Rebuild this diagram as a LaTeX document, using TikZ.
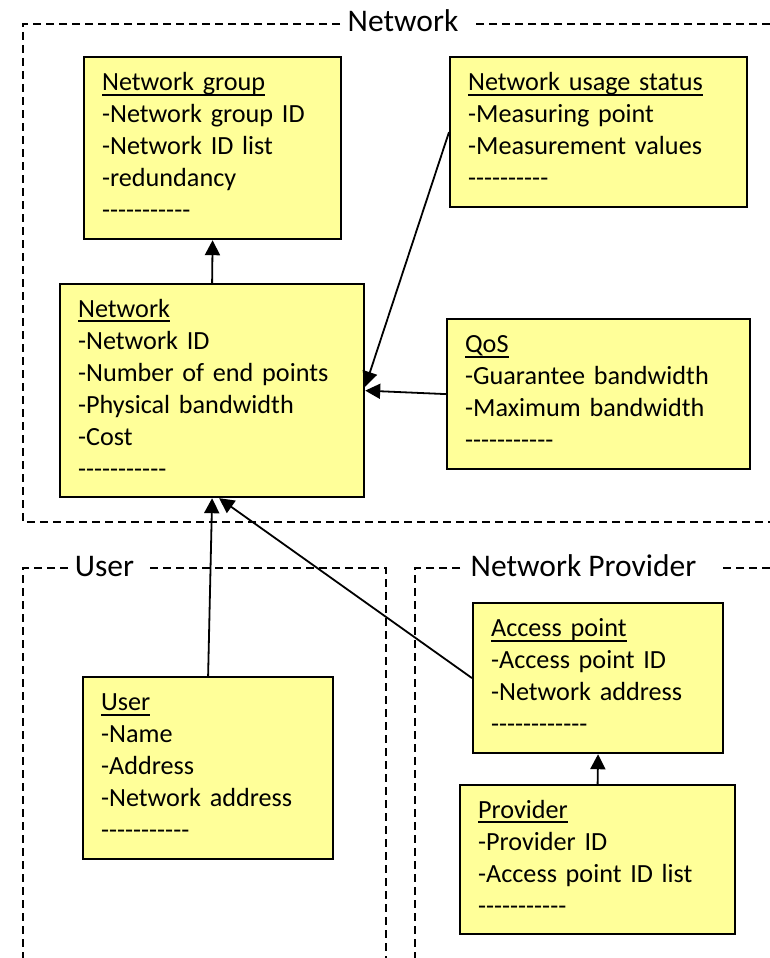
\documentclass[tikz,border=0pt]{standalone}
\usepackage{fontspec}
\setmainfont{Carlito}
\usetikzlibrary{arrows.meta}
\definecolor{boxfill}{RGB}{255,255,153}
\newcommand\dashrow[1]{\foreach \i in {1,...,#1}{-\kern0pt}}
\newcommand\ulc[1]{\leavevmode\setbox0\hbox{#1}\rlap{\rule[-5pt]{\wd0}{1.8pt}}\box0}
\tikzset{
  box/.style={draw, line width=2.2pt, fill=boxfill, anchor=north west, align=left,
    inner xsep=18pt, inner ysep=0pt, font=\fontsize{26.2}{32}\selectfont},
  region/.style={line width=1.5pt, dash pattern=on 8pt off 5pt},
  regionlabel/.style={anchor=base, inner sep=0pt, font=\fontsize{31.5}{36}\selectfont},
  arr/.style={line width=1.8pt, -{Triangle[length=15pt,width=15pt]}}
}
\begin{document}
\begin{tikzpicture}[x=1pt,y=-1pt]
\useasboundingbox (0,0) rectangle (770,958);
% regions
\draw[region] (770,24) -- (475,24);
\draw[region] (340,24) -- (23,24) -- (23,522) -- (770,522);
\node[regionlabel] (lnet) at (403,32) {Network};
\draw[region] (68,568) -- (23,568) -- (23,958);
\draw[region] (150,568) -- (386,568) -- (386,958);
\node[regionlabel] (luser) at (104.5,576) {User};
\draw[region] (460,568) -- (415,568) -- (415,958);
\draw[region] (723,568) -- (770,568);
\node[regionlabel] (lprov) at (583.5,576) {Network Provider};
% boxes
\node[box, text width=221pt, minimum height=182pt] (ng) at (83,56)
  {\strut\ulc{Network group}\\\strut-Network group ID\\\strut-Network ID list\\\strut-redundancy\\\strut\dashrow{11}};
\node[box, text width=261pt, minimum height=150pt] (nus) at (449,56)
  {\strut\ulc{Network usage status}\\\strut-Measuring point\\\strut-Measurement values\\\strut\dashrow{10}};
\node[box, text width=268pt, minimum height=213pt] (net) at (59,283)
  {\strut\ulc{Network}\\\strut-Network ID\\\strut-Number of end points\\\strut-Physical bandwidth\\\strut-Cost\\\strut\dashrow{11}};
\node[box, text width=267pt, minimum height=150pt] (qos) at (446,318)
  {\strut\ulc{QoS}\\\strut-Guarantee bandwidth\\\strut-Maximum bandwidth\\\strut\dashrow{11}};
\node[box, text width=214pt, minimum height=182pt] (user) at (82,676)
  {\strut\ulc{User}\\\strut-Name\\\strut-Address\\\strut-Network address\\\strut\dashrow{11}};
\node[box, text width=214pt, minimum height=150pt] (ap) at (472,602)
  {\strut\ulc{Access point}\\\strut-Access point ID\\\strut-Network address\\\strut\dashrow{12}};
\node[box, text width=239pt, minimum height=149pt] (prov) at (459,784)
  {\strut\ulc{Provider}\\\strut-Provider ID\\\strut-Access point ID list\\\strut\dashrow{11}};
% connectors
\draw[arr] (net.north) -- (ng.south);
\draw[arr] (nus.west) -- ([yshift=4pt]net.east);
\draw[arr] (qos.west) -- (net.east);
\draw[arr] (user.north) -- (net.south);
\draw[arr] (ap.west) -- ([xshift=7pt]net.south);
\draw[arr] (prov.north) -- (ap.south);
\end{tikzpicture}
\end{document}
